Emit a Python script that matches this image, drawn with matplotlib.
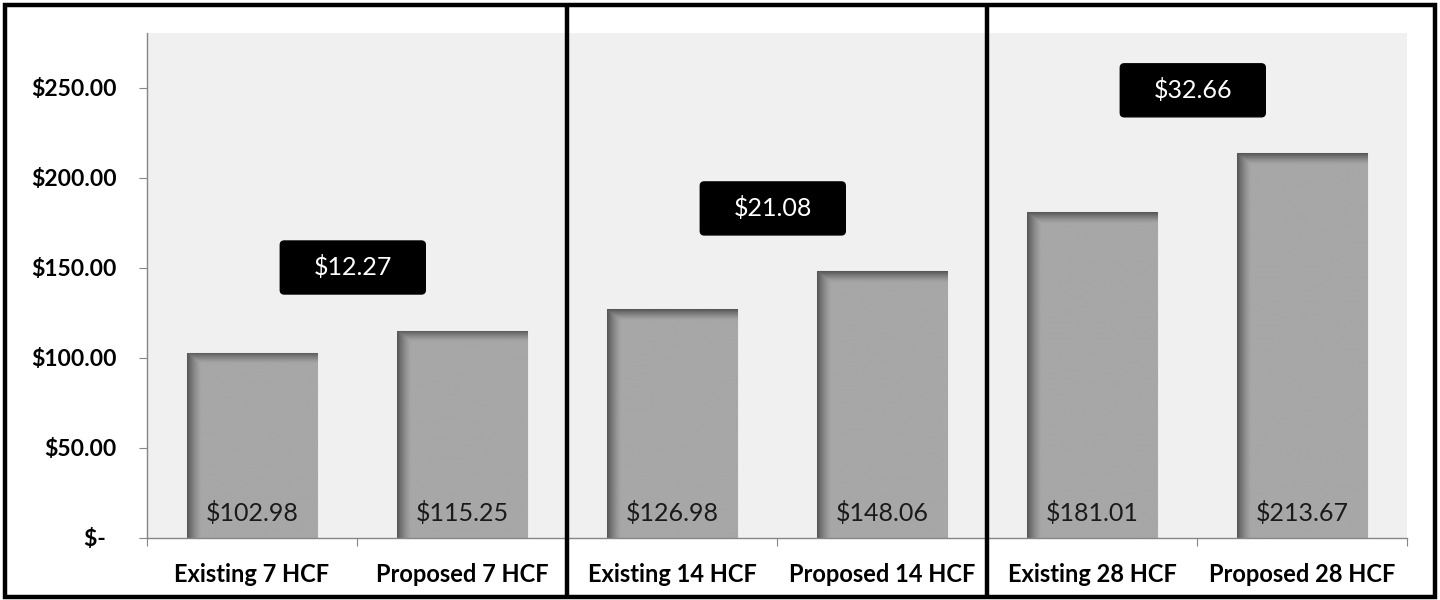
import numpy as np
import matplotlib.pyplot as plt
import matplotlib.transforms as mtransforms
from matplotlib.patches import Rectangle, FancyBboxPatch

# データ
categories = ["Existing 7 HCF", "Proposed 7 HCF",
              "Existing 14 HCF", "Proposed 14 HCF",
              "Existing 28 HCF", "Proposed 28 HCF"]
values = [102.98, 115.25, 126.98, 148.06, 181.01, 213.67]
y_ticks = [0, 50, 100, 150, 200, 250]
y_tick_labels = ["$-  ", "$50.00", "$100.00", "$150.00", "$200.00", "$250.00"]

plt.rcParams["font.family"] = ["Lato", "DejaVu Sans"]

fig = plt.figure(figsize=(14.4, 6), dpi=100)
ax = fig.add_axes([147 / 1440, 62 / 600, 1260 / 1440, 505 / 600])
ax.set_facecolor("#f0f0f0")

x = np.arange(len(categories))
bar_w = 0.62
ax.set_xlim(-0.5, len(categories) - 0.5)
ax.set_ylim(0, 280.5)

# 棒グラフ（グラデーション付き）
bars = ax.bar(x, values, width=bar_w, color="#a7a7a7", edgecolor="#b8b8b8",
              linewidth=0.8, zorder=2)
px_per_unit = 505 / 280.5
for bar in bars:
    x0, h = bar.get_x(), bar.get_height()
    nx = 130
    ny = max(int(h * px_per_unit), 2)
    i = np.arange(nx)[None, :]
    j = np.arange(ny)[:, None]
    fx = np.clip(1 - i / 14.0, 0, 1) ** 1.4
    fy = np.clip(1 - j / 11.0, 0, 1) ** 1.3
    shade = np.maximum(fx, fy)
    img = (167 - (167 - 88) * shade) / 255.0
    im = ax.imshow(img, cmap="gray", vmin=0, vmax=1, aspect="auto",
                   extent=(x0, x0 + bar.get_width(), 0, h), origin="upper",
                   interpolation="bilinear", zorder=2.5)
    im.set_clip_path(bar)

# 棒の値ラベル
for xi, v in zip(x, values):
    ax.text(xi, 14, f"${v:.2f}", ha="center", va="center", fontsize=18,
            color="#1a1a1a", zorder=4)

# 差額ボックス
for g in range(len(categories) // 2):
    diff = values[2 * g + 1] - values[2 * g]
    cx = 2 * g + 0.48
    cy = values[2 * g + 1] + 35
    trans = fig.dpi_scale_trans + mtransforms.ScaledTranslation(cx, cy, ax.transData)
    box = FancyBboxPatch((-0.70, -0.24), 1.40, 0.48,
                         boxstyle="round,pad=0.025,rounding_size=0.04",
                         facecolor="black", edgecolor="black",
                         transform=trans, zorder=5, clip_on=False)
    ax.add_patch(box)
    ax.text(cx, cy, f"${diff:.2f}", ha="center", va="center", fontsize=18,
            color="white", zorder=6)

# 軸の設定
for side in ["top", "right"]:
    ax.spines[side].set_visible(False)
for side in ["left", "bottom"]:
    ax.spines[side].set_color("#868686")
    ax.spines[side].set_linewidth(1.0)

ax.set_yticks(y_ticks)
ax.set_yticklabels(y_tick_labels, fontsize=16.5, fontweight="bold")
ax.tick_params(axis="y", length=6, color="#868686", pad=16)

ax.set_xticks(np.arange(-0.5, len(categories), 1.0))
ax.set_xticklabels([])
ax.set_xticks(x, minor=True)
ax.set_xticklabels(categories, minor=True, fontsize=17, fontweight="bold")
ax.tick_params(axis="x", which="major", length=6, color="#868686")
ax.tick_params(axis="x", which="minor", length=0, pad=18)

# 区切り線（グループ境界）
sep_trans = mtransforms.blended_transform_factory(ax.transData, fig.transFigure)
for g in range(1, len(categories) // 2):
    xb = 2 * g - 0.5
    ax.plot([xb, xb], [2 / 600, 595 / 600], color="black", lw=3.2,
            transform=sep_trans, clip_on=False, zorder=10, solid_capstyle="butt")

# 外枠
fig.patches.append(Rectangle((5 / 1440, 3 / 600), 1430 / 1440, 592 / 600,
                             transform=fig.transFigure, fill=False,
                             edgecolor="black", linewidth=3.2, zorder=10))

fig.savefig("out.png", dpi=100)
